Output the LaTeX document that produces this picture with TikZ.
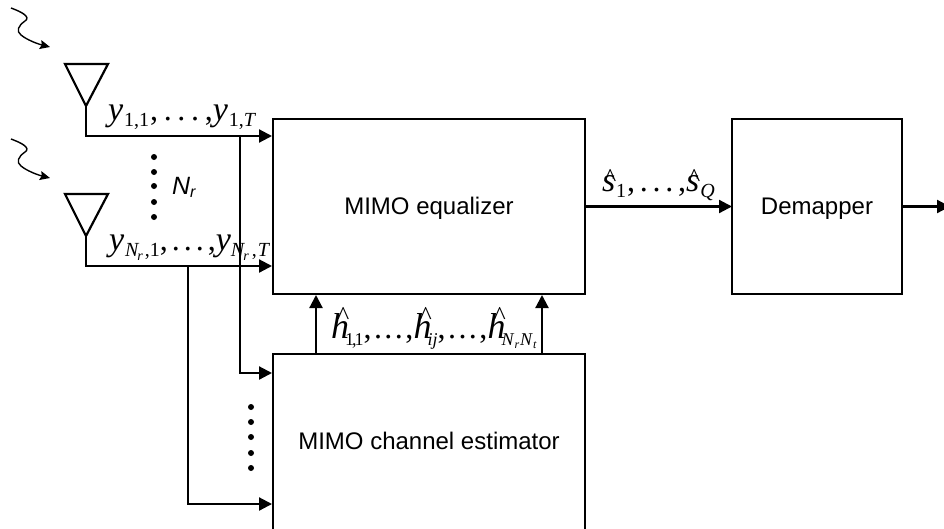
\documentclass[tikz,border=0pt]{standalone}
\usepackage{fontspec}
\setmainfont{Liberation Serif}
\newfontfamily\arialf{Liberation Sans}
\usetikzlibrary{arrows.meta}
\newcommand{\vY}{{\fontsize{34}{34}\selectfont\itshape y}}
\newcommand{\vS}[1]{\raisebox{-6pt}{\fontsize{20}{20}\selectfont #1}}
\newcommand{\vT}[1]{\raisebox{-7pt}{\fontsize{18}{18}\selectfont #1}}
\newcommand{\vSS}{\raisebox{-4pt}{\fontsize{14}{14}\selectfont\itshape r}}
\newcommand{\vNr}{{\itshape N\kern-1pt\vSS}}
\newcommand{\vDots}[1]{{\fontsize{32}{32}\selectfont ,\kern#1.\kern#1.\kern#1.\kern#1,}}
\newcommand{\vHat}[2]{\rlap{\kern#2\raisebox{#1}{\fontsize{26}{26}\selectfont\^{}}}}
\newcommand{\vH}{\vHat{14pt}{6pt}{\fontsize{36}{36}\selectfont\itshape h}}
\newcommand{\vSh}{\vHat{5pt}{2pt}{\fontsize{34}{34}\selectfont\itshape s}}
\begin{document}
\begin{tikzpicture}[x=1pt,y=-1pt,line width=2.2pt,
  block/.style={draw=black,line width=2.2pt,inner sep=0pt,outer sep=0pt,anchor=north west},
  caption/.style={inner sep=0pt,anchor=base,font=\arialf\fontsize{24}{24}\selectfont},
  flow/.style={draw=black,line width=2.2pt,-{Triangle[length=13pt,width=13pt]}},
  wave/.style={draw=black,line width=1.4pt,-{Stealth[length=10pt,width=9pt,inset=1.5pt]}},
  dotmark/.style={circle,fill=black,inner sep=0pt,minimum size=6pt},
  lab/.style={inner sep=0pt,outer sep=0pt,anchor=base west}]
\useasboundingbox (0,0) rectangle (944,528);
\clip (0,0) rectangle (944,528);
% blocks
\node[block,minimum width=312pt,minimum height=175pt] (eq) at (273,119) {};
\node[block,minimum width=312pt,minimum height=200pt] (est) at (273,354) {};
\node[block,minimum width=170pt,minimum height=175pt] (dem) at (732,119) {};
\node[caption] (eqtxt) at (429,214) {MIMO equalizer};
\node[caption] (esttxt) at (429,449) {MIMO channel estimator};
\node[caption] (demtxt) at (817,214) {Demapper};
% antennas
\coordinate (a1) at (86,106);
\coordinate (a2) at (86,236);
\draw[line join=miter] (65,64) -- (108,64) -- (a1) -- cycle;
\draw[line join=miter] (65,194) -- (108,194) -- (a2) -- cycle;
\coordinate (in1) at (272,136);
\coordinate (in2) at (272,266);
\coordinate (in3) at (272,373);
\coordinate (in4) at (272,504);
\draw[flow] (a1) |- (in1);
\draw[flow] (a2) |- (in2);
\draw[flow] (240,136) |- (in3);
\draw[flow] (188,266) |- (in4);
\draw[flow] (316,354) -- (316,295);
\draw[flow] (542,354) -- (542,295);
\draw[flow] (eq.east) -- (dem.west);
\draw[flow] (dem.east) -- ++(48,0);
% incoming waves
\draw[wave] (11,8) .. controls (22,12) and (31,17) .. (25,21) .. controls (18,26) and (16,31) .. (21,35) .. controls (27,40) and (38,44) .. (50,47);
\draw[wave] (11,139) .. controls (22,143) and (31,148) .. (25,152) .. controls (18,157) and (16,162) .. (21,166) .. controls (27,171) and (38,175) .. (50,178);
% dots
\foreach \yy in {157,172,186,202,217} \node[dotmark] at (154,\yy) {};
\foreach \yy in {407,422,437,453,468} \node[dotmark] at (251,\yy) {};
% labels
\node[lab] (nr) at (172,194) {\fontsize{25}{25}\selectfont\arialf\itshape N\raisebox{-3pt}{\fontsize{16}{16}\selectfont r}};
\node[lab] (y1) at (108,120) {\vY\kern1pt\vS{1,1}\kern1pt\vDots{5.7pt}\vY\kern1pt\vS{1,\itshape T}};
\node[lab] (y2) at (109,250) {\vY\kern1pt\vS{\vNr\kern2pt,1}\vDots{4pt}\vY\vS{\vNr\kern3pt,\kern1pt\itshape T}};
\node[lab] (hh) at (331,338) {\vH\kern-4pt\vT{1\kern-2pt,\kern-2pt1}\vDots{2.5pt}\vH\kern-4pt\vT{\itshape ij}\vDots{2.5pt}\vH\kern-4pt\vT{\itshape N\kern1pt\raisebox{-3pt}{\fontsize{12}{12}\selectfont r}\kern1pt N\kern1pt\raisebox{-3pt}{\fontsize{12}{12}\selectfont t}}};
\node[lab] (ss) at (602,191) {\vSh\kern1pt\vS{1}\kern1pt\vDots{4.7pt}\vSh\kern1pt\vS{\itshape Q}};
\end{tikzpicture}
\end{document}
